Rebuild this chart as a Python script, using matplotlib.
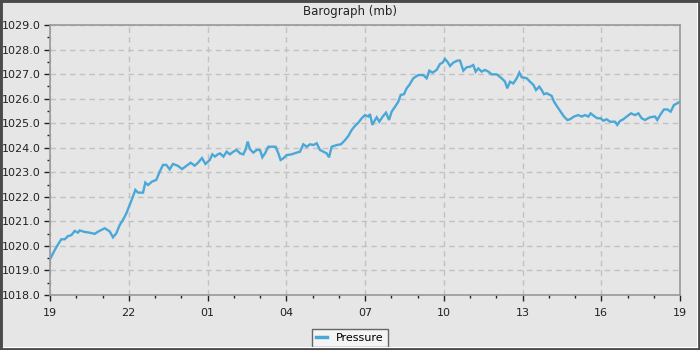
import matplotlib
matplotlib.use("Agg")
import matplotlib.pyplot as plt
from matplotlib.ticker import MultipleLocator, FuncFormatter
from matplotlib.lines import Line2D
from matplotlib.patches import Rectangle

# hours since the start (19:00) and pressure in mb
hours = [0.00, 0.18, 0.305, 0.43, 0.56, 0.685, 0.815, 0.94, 1.065, 1.13, 1.32, 1.51, 1.70, 1.83,
         1.955, 2.085, 2.145, 2.275, 2.40, 2.525, 2.655, 2.78, 2.91, 3.035, 3.16, 3.25, 3.355, 3.545,
         3.63, 3.735, 3.885, 4.05, 4.18, 4.305, 4.43, 4.56, 4.685, 4.875, 5.03, 5.195, 5.36,
         5.51, 5.64, 5.79, 5.92, 6.085,
         6.185, 6.285, 6.39, 6.475, 6.605, 6.73, 6.855, 6.985, 7.11, 7.24, 7.365, 7.455,
         7.53, 7.62, 7.745, 7.875, 8.00, 8.09, 8.19, 8.315, 8.445, 8.595, 8.70, 8.785,
         8.89, 9.015, 9.205, 9.395, 9.525, 9.65, 9.78, 9.905, 10.03, 10.16, 10.285, 10.415,
         10.54, 10.63, 10.73, 10.925, 11.085, 11.24, 11.365, 11.49, 11.62, 11.745, 11.875,
         12.00, 12.125, 12.19, 12.28, 12.38, 12.445, 12.545, 12.675, 12.80, 12.915, 13.015, 13.145,
         13.27, 13.36, 13.485, 13.585, 13.69, 13.84, 14.03, 14.22, 14.35, 14.45, 14.575, 14.73,
         14.855, 14.96, 15.045, 15.135, 15.24, 15.365, 15.52, 15.62, 15.745, 15.875, 16.00, 16.125,
         16.215, 16.315, 16.445, 16.57, 16.70, 16.825, 17.015, 17.205, 17.335, 17.42, 17.525, 17.65,
         17.78, 17.88, 17.97,
         18.16, 18.285, 18.415, 18.515, 18.64, 18.73, 18.82, 18.92, 19.11, 19.20, 19.325, 19.455,
         19.58, 19.71, 19.81, 19.96, 20.125, 20.255, 20.38, 20.51, 20.595, 20.725, 20.85, 20.98,
         21.08, 21.205, 21.335, 21.525, 21.61, 21.715, 21.84, 21.97, 22.135, 22.285, 22.415, 22.54,
         22.665, 22.855, 23.05, 23.135, 23.24, 23.39, 23.515, 23.645, 23.77, 23.895, 24.00]
pressure = [1019.45, 1019.83, 1020.06, 1020.27, 1020.27, 1020.40, 1020.44, 1020.61, 1020.54,
            1020.63, 1020.57, 1020.54, 1020.49, 1020.58, 1020.65, 1020.72, 1020.68, 1020.59,
            1020.35, 1020.51, 1020.85, 1021.06, 1021.33, 1021.67, 1022.01, 1022.28, 1022.17,
            1022.17, 1022.58, 1022.48, 1022.62, 1022.69, 1023.03, 1023.30, 1023.30, 1023.12,
            1023.34, 1023.26, 1023.13, 1023.26, 1023.39, 1023.27, 1023.39, 1023.58, 1023.34,
            1023.50,
            1023.73, 1023.64, 1023.73, 1023.77, 1023.64, 1023.84, 1023.73, 1023.84, 1023.91,
            1023.77, 1023.73, 1023.94, 1024.25, 1023.94, 1023.80, 1023.91, 1023.91, 1023.61,
            1023.77, 1024.04, 1024.04, 1024.04, 1023.77, 1023.50, 1023.57, 1023.70, 1023.73,
            1023.80, 1023.84, 1024.14, 1024.04, 1024.14, 1024.11, 1024.18, 1023.91, 1023.84,
            1023.77, 1023.61, 1024.04, 1024.11, 1024.14, 1024.31, 1024.48, 1024.72, 1024.89,
            1025.02, 1025.20,
            1025.33, 1025.27, 1025.37, 1024.93, 1025.13, 1025.24, 1025.06, 1025.27, 1025.43,
            1025.13, 1025.47, 1025.67, 1025.88, 1026.15, 1026.18, 1026.42, 1026.56, 1026.83,
            1026.96, 1026.96, 1026.83, 1027.14, 1027.06, 1027.17, 1027.41, 1027.47, 1027.62,
            1027.51, 1027.33, 1027.47, 1027.55, 1027.55, 1027.14, 1027.28, 1027.30, 1027.37,
            1027.10, 1027.23, 1027.10, 1027.17, 1027.10, 1026.99, 1026.99, 1026.83, 1026.69,
            1026.42, 1026.69, 1026.62, 1026.83, 1027.06, 1026.87,
            1026.83, 1026.69, 1026.56, 1026.35, 1026.49, 1026.35, 1026.18, 1026.22, 1026.11,
            1025.88, 1025.67, 1025.47, 1025.27, 1025.13, 1025.16, 1025.27, 1025.33, 1025.27,
            1025.33, 1025.27, 1025.40, 1025.29, 1025.20, 1025.20, 1025.10, 1025.16, 1025.06,
            1025.06, 1024.93, 1025.09, 1025.16, 1025.27, 1025.40, 1025.33, 1025.40, 1025.20,
            1025.13, 1025.24, 1025.27, 1025.13, 1025.33, 1025.56, 1025.56, 1025.47, 1025.74,
            1025.81, 1025.88]
start_hour = 19
series_label = "Pressure"
title = "Barograph (mb)"

bg = "#e6e6e6"
line_color = "#4aa8d8"

fig = plt.figure(figsize=(7, 3.5), dpi=100, facecolor=bg)
ax = fig.add_axes([50/700, 55/350, 630/700, 270/350], facecolor=bg)

ax.plot(hours, pressure, color=line_color, lw=1.7, solid_joinstyle="miter")

ax.set_xlim(0, 24)
ax.set_ylim(1018, 1029)
ax.xaxis.set_major_locator(MultipleLocator(3))
ax.xaxis.set_minor_locator(MultipleLocator(1))
ax.yaxis.set_major_locator(MultipleLocator(1))
ax.yaxis.set_minor_locator(MultipleLocator(0.5))
ax.xaxis.set_major_formatter(FuncFormatter(lambda v, p: f"{int(round(v + start_hour)) % 24:02d}"))
ax.yaxis.set_major_formatter(FuncFormatter(lambda v, p: f"{v:.1f}"))

ax.grid(True, which="major", color="#c2c2c2", linestyle=(0, (4, 3)), linewidth=1.0)
ax.set_axisbelow(True)
for s in ax.spines.values():
    s.set_color("#999999")
    s.set_linewidth(1.2)

ax.tick_params(which="major", direction="out", length=4, width=1, color="#222222",
               labelsize=8, labelcolor="#222222", pad=3)
ax.tick_params(which="minor", direction="out", length=2.5, width=1, color="#222222")
ax.tick_params(axis="x", which="major", pad=5)

fig.text(0.5, 1 - 12/350, title, ha="center", va="center", fontsize=8.5, color="#222222")

handle = Line2D([], [], color=line_color, lw=2.5)
leg = fig.legend([handle], [series_label], loc="lower center", bbox_to_anchor=(0.5, 3/350),
                 fontsize=8, frameon=True, fancybox=False, handlelength=1.0,
                 borderpad=0.35, handletextpad=0.8, borderaxespad=0)
leg.get_frame().set_facecolor("#f4f4f4")
leg.get_frame().set_edgecolor("#666666")
leg.get_frame().set_linewidth(1.0)
leg.get_frame().set_alpha(1)

# window-like border
fig.patches.append(Rectangle((0, 0), 1, 1, transform=fig.transFigure, fill=False,
                             edgecolor="#4a4a4a", linewidth=3.5, zorder=10))
fig.add_artist(Line2D([2.5/700, 697/700], [3/350, 3/350], transform=fig.transFigure,
                      color="white", lw=0.8, zorder=11))
fig.add_artist(Line2D([697/700, 697/700], [3/350, 347.5/350], transform=fig.transFigure,
                      color="white", lw=0.8, zorder=11))

fig.savefig("out.png", dpi=100, facecolor=bg)
